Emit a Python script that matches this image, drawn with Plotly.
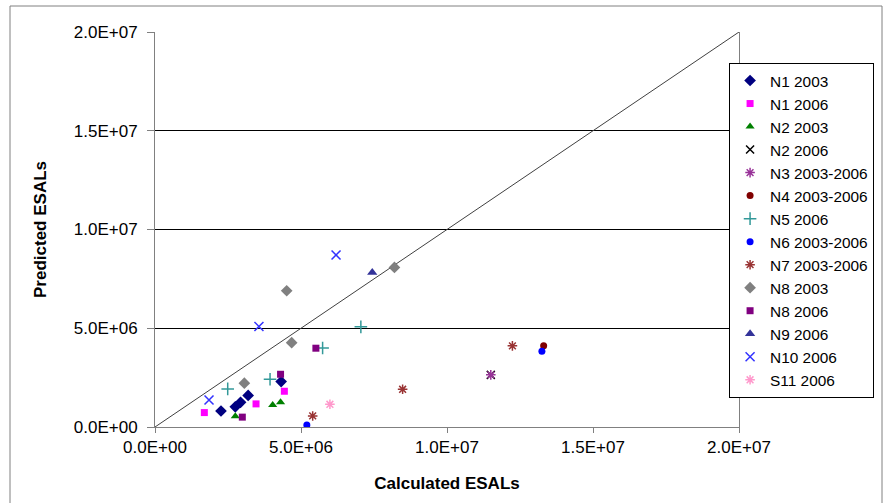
import plotly.graph_objects as go

# Calculated vs predicted ESALs per section / survey year
n1_2003_x = [2.26e6, 2.75e6, 2.93e6, 3.19e6, 4.32e6]
n1_2003_y = [0.81e6, 1.02e6, 1.25e6, 1.60e6, 2.30e6]
n1_2006_x = [1.69e6, 3.46e6, 4.43e6]
n1_2006_y = [0.73e6, 1.17e6, 1.81e6]
n2_2003_x = [2.75e6, 4.03e6, 4.30e6]
n2_2003_y = [0.54e6, 1.12e6, 1.25e6]
n2_2006_x = [11.5e6]
n2_2006_y = [2.64e6]
n3_x = [11.5e6]
n3_y = [2.64e6]
n4_x = [13.31e6]
n4_y = [4.11e6]
n5_2006_x = [2.49e6, 3.94e6, 5.74e6, 7.05e6]
n5_2006_y = [1.93e6, 2.42e6, 4.00e6, 5.07e6]
n6_x = [5.20e6, 13.25e6]
n6_y = [0.10e6, 3.84e6]
n7_x = [5.40e6, 8.48e6, 12.24e6]
n7_y = [0.56e6, 1.91e6, 4.11e6]
n8_2003_x = [3.06e6, 4.68e6, 4.51e6, 8.20e6]
n8_2003_y = [2.22e6, 4.27e6, 6.90e6, 8.08e6]
n8_2006_x = [2.99e6, 4.30e6, 5.51e6]
n8_2006_y = [0.50e6, 2.67e6, 3.99e6]
n9_2006_x = [7.44e6]
n9_2006_y = [7.82e6]
n10_2006_x = [1.85e6, 3.56e6, 6.20e6]
n10_2006_y = [1.37e6, 5.09e6, 8.71e6]
s11_2006_x = [5.99e6]
s11_2006_y = [1.15e6]

# line of equality
equality = [0.0, 2.0e7]

tick_vals = [0, 5e6, 1e7, 1.5e7, 2e7]
tick_text = ["0.0E+00", "5.0E+06", "1.0E+07", "1.5E+07", "2.0E+07"]

series = [
    ("N1 2003", n1_2003_x, n1_2003_y, "diamond", "#000080", 9, False),
    ("N1 2006", n1_2006_x, n1_2006_y, "square", "#FF00FF", 7, False),
    ("N2 2003", n2_2003_x, n2_2003_y, "triangle-up", "#008000", 8, False),
    ("N2 2006", n2_2006_x, n2_2006_y, "x-thin-open", "#000000", 8, True),
    ("N3 2003-2006", n3_x, n3_y, "asterisk-open", "#993399", 8, True),
    ("N4 2003-2006", n4_x, n4_y, "circle", "#800000", 7, False),
    ("N5 2006", n5_2006_x, n5_2006_y, "cross-thin-open", "#339999", 9, True),
    ("N6 2003-2006", n6_x, n6_y, "circle", "#0000FF", 7, False),
    ("N7 2003-2006", n7_x, n7_y, "asterisk-open", "#993333", 8, True),
    ("N8 2003", n8_2003_x, n8_2003_y, "diamond", "#808080", 9, False),
    ("N8 2006", n8_2006_x, n8_2006_y, "square", "#800080", 7, False),
    ("N9 2006", n9_2006_x, n9_2006_y, "triangle-up", "#333399", 9, False),
    ("N10 2006", n10_2006_x, n10_2006_y, "x-thin-open", "#3333FF", 9, True),
    ("S11 2006", s11_2006_x, s11_2006_y, "asterisk-open", "#FF99CC", 8, True),
]

fig = go.Figure()

fig.add_trace(go.Scatter(
    x=equality, y=equality, mode="lines",
    line=dict(color="#404040", width=1), showlegend=False, hoverinfo="skip",
))

for name, xs, ys, sym, col, size, is_line in series:
    marker = dict(symbol=sym, size=size, color=col)
    if is_line:
        marker["line"] = dict(color=col, width=1.5)
    else:
        marker["line"] = dict(width=0)
    fig.add_trace(go.Scatter(x=xs, y=ys, mode="markers", name=name, marker=marker))

font_family = "Liberation Sans, Arial, sans-serif"

fig.update_layout(
    width=886, height=503,
    margin=dict(l=155, r=147, t=32, b=76, autoexpand=False),
    plot_bgcolor="white", paper_bgcolor="white",
    font=dict(family=font_family, size=17, color="black"),
    showlegend=True,
    legend=dict(
        x=0.983, y=0.9215, xanchor="left", yanchor="top",
        bgcolor="white", bordercolor="black", borderwidth=1,
        font=dict(size=15.4, family=font_family, color="black"),
        tracegroupgap=0,
    ),
    xaxis=dict(
        range=[0, 2e7], tickvals=tick_vals, ticktext=tick_text,
        showgrid=False, zeroline=False,
        showline=True, linecolor="#808080", linewidth=1,
        ticks="outside", ticklen=5, tickcolor="#808080",
        tickfont=dict(size=17),
        title=dict(text="<b>Calculated ESALs</b>", font=dict(size=17), standoff=20),
    ),
    yaxis=dict(
        range=[0, 2e7], tickvals=tick_vals, ticktext=tick_text,
        showgrid=True, gridcolor="black", gridwidth=1, zeroline=False,
        showline=True, linecolor="#808080", linewidth=1, mirror=True,
        ticks="outside", ticklen=7, tickcolor="#808080",
        ticklabelstandoff=6,
        tickfont=dict(size=17),
        title=dict(text="<b>Predicted ESALs</b>", font=dict(size=17), standoff=22),
    ),
    shapes=[
        dict(type="rect", xref="paper", yref="paper",
             x0=(10 - 155) / 584, x1=(882 - 155) / 584,
             y0=-0.3, y1=(427 - 6) / 395,
             line=dict(color="#808080", width=1), layer="below"),
    ],
)

fig.write_html("out.html")
